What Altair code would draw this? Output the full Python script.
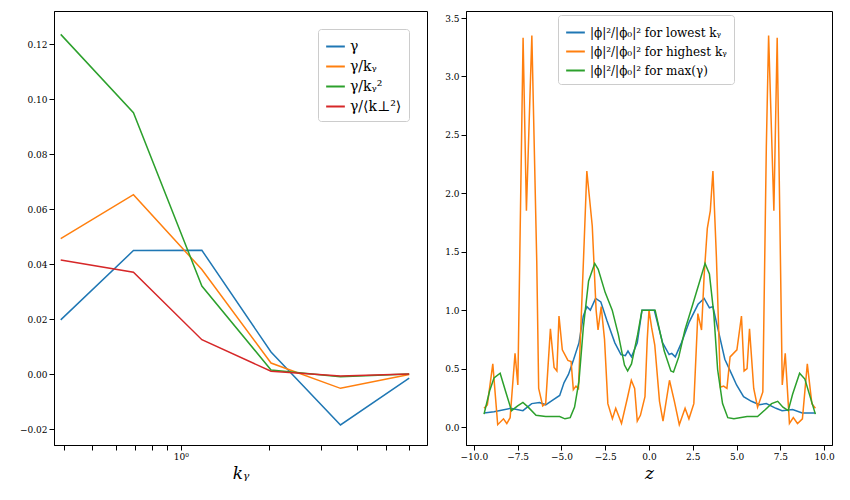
import altair as alt
import pandas as pd

FONT = "DejaVu Serif"
COLORS = ["#1f77b4", "#ff7f0e", "#2ca02c", "#d62728"]

# left panel: growth rate vs k_y
ky = [0.39, 0.69, 1.18, 2.03, 3.5, 6.0]
gamma = [0.0197, 0.0449, 0.0450, 0.0080, -0.0185, -0.0015]
gamma_ky = [0.0492, 0.0652, 0.0380, 0.0040, -0.0052, -0.0002]
gamma_ky2 = [0.1235, 0.0950, 0.0320, 0.0015, -0.0010, 0.0]
gamma_kperp = [0.0415, 0.0370, 0.0125, 0.0010, -0.0007, 0.0]
left_names = ["γ", "γ/kᵧ", "γ/kᵧ²", "γ/⟨k⊥²⟩"]

# right panel: mode structure along z
z_low = [-9.42, -8.85, -7.9, -7.2, -6.7, -6.25, -5.9, -5.5, -5.1, -4.85, -4.6, -4.3, -4.0,
         -3.75, -3.55, -3.35, -3.05, -2.75, -2.4, -1.95, -1.6, -1.35, -1.2, -1.0, -0.67, -0.4,
         0.0, 0.3, 0.78, 1.15, 1.3, 1.5, 1.85, 2.3, 2.8, 3.15, 3.45, 3.65, 3.92, 4.33, 4.76,
         5.0, 5.4, 5.85, 6.3, 6.7, 7.25, 7.6, 8.2, 8.75, 9.5]
v_low = [0.12, 0.13, 0.16, 0.14, 0.20, 0.21, 0.19, 0.23, 0.27, 0.38, 0.45, 0.58, 0.72,
         0.95, 1.03, 1.00, 1.10, 1.07, 0.91, 0.72, 0.62, 0.61, 0.65, 0.60, 0.72, 1.00,
         1.00, 1.00, 0.72, 0.62, 0.63, 0.60, 0.72, 0.90, 1.05, 1.10, 1.02, 1.03, 0.85, 0.58, 0.44,
         0.36, 0.26, 0.22, 0.19, 0.20, 0.16, 0.14, 0.15, 0.12, 0.12]

z_high = [-9.42, -9.23, -8.92, -8.64, -8.31, -8.12, -7.93, -7.65, -7.49, -7.19, -7.0, -6.69,
          -6.41, -6.3, -6.07, -5.9, -5.63, -5.42, -5.26, -5.14, -4.95, -4.63, -4.45, -4.32,
          -4.17, -4.03, -3.70, -3.55, -3.24, -3.02, -2.91, -2.73, -2.54, -2.35, -2.09, -1.90,
          -1.72, -1.57, -1.23, -1.01, -0.82, -0.67, -0.49, -0.23, -0.1, 0.0, 0.15, 0.33, 0.6,
          0.8, 1.17, 1.45, 1.73, 2.06, 2.28, 2.56, 2.79, 3.0, 3.15, 3.33, 3.5, 3.65, 3.85,
          4.08, 4.26, 4.45, 4.63, 5.02, 5.28, 5.43, 5.6, 5.74, 5.98, 6.2, 6.5, 6.7, 6.83,
          7.13, 7.32, 7.61, 7.78, 8.02, 8.24, 8.48, 8.76, 9.04, 9.3, 9.5]
v_high = [0.16, 0.19, 0.54, 0.02, 0.07, 0.03, 0.08, 0.63, 0.36, 3.33, 1.85, 3.35,
          1.42, 0.33, 0.18, 0.20, 0.84, 0.51, 0.48, 0.95, 0.66, 0.57, 0.56, 0.32,
          0.35, 0.33, 1.59, 2.19, 1.72, 1.00, 0.83, 1.03, 0.75, 0.20, 0.07, 0.16,
          0.09, 0.03, 0.25, 0.40, 0.33, 0.05, 0.10, 0.26, 0.75, 1.00, 0.85, 0.70, 0.22,
          0.05, 0.40, 0.22, 0.02, 0.16, 0.07, 0.20, 0.97, 0.83, 1.30, 1.70, 1.85, 2.19, 1.45,
          0.34, 0.35, 0.33, 0.60, 0.66, 0.95, 0.48, 0.50, 0.84, 0.33, 0.17, 0.30, 2.40, 3.35,
          1.85, 3.33, 0.36, 0.63, 0.03, 0.08, 0.03, 0.07, 0.54, 0.20, 0.16]

z_max = [-9.42, -9.1, -8.85, -8.5, -8.2, -7.85, -7.5, -7.2, -6.9, -6.45, -5.9, -5.1, -4.8,
         -4.5, -4.25, -4.0, -3.75, -3.45, -3.1, -2.9, -2.5, -2.1, -1.75, -1.4, -1.22, -1.0,
         -0.65, -0.4, 0.0, 0.35, 0.87, 1.25, 1.4, 1.7, 2.05, 2.5, 2.9, 3.2, 3.45, 3.7, 3.92,
         4.2, 4.5, 4.85, 5.6, 6.2, 6.65, 7.0, 7.35, 7.65, 7.95, 8.2, 8.6, 8.9, 9.2, 9.5]
v_max = [0.11, 0.31, 0.42, 0.46, 0.31, 0.14, 0.18, 0.21, 0.17, 0.10, 0.09, 0.09, 0.07,
         0.08, 0.17, 0.39, 0.85, 1.25, 1.40, 1.35, 1.15, 1.00, 0.79, 0.53, 0.48, 0.54,
         0.79, 1.00, 1.00, 1.00, 0.65, 0.48, 0.47, 0.60, 0.83, 1.05, 1.25, 1.40, 1.31, 0.97, 0.49,
         0.20, 0.08, 0.07, 0.09, 0.09, 0.15, 0.20, 0.22, 0.17, 0.14, 0.28, 0.46, 0.41, 0.26, 0.11]
right_names = ["|ϕ|²/|ϕ₀|² for lowest kᵧ", "|ϕ|²/|ϕ₀|² for highest kᵧ", "|ϕ|²/|ϕ₀|² for max(γ)"]

left_df = pd.concat([
    pd.DataFrame({"ky": ky, "val": vals, "series": name, "order": i})
    for i, (name, vals) in enumerate(zip(left_names, [gamma, gamma_ky, gamma_ky2, gamma_kperp]))
])
right_df = pd.concat([
    pd.DataFrame({"z": zs, "val": vs, "series": name, "order": i})
    for i, (name, zs, vs) in enumerate(zip(right_names, [z_low, z_high, z_max], [v_low, v_high, v_max]))
])

legend_style = dict(
    title=None, fillColor="white", strokeColor="#cccccc", cornerRadius=3, padding=7,
    labelFont=FONT, symbolType="stroke", symbolStrokeWidth=2,
    symbolSize=350, rowPadding=2,
)

minor = [0.4, 0.5, 0.6, 0.7, 0.8, 0.9, 1, 2, 3, 4, 5, 6]
left = (
    alt.Chart(left_df)
    .mark_line(strokeWidth=1.5)
    .encode(
        x=alt.X("ky:Q", title="kᵧ",
                scale=alt.Scale(type="log", domain=[0.37, 6.9], nice=False),
                axis=alt.Axis(values=minor, labelExpr="datum.value == 1 ? '10⁰' : ''",
                              grid=False, titleFontStyle="italic", titleFontSize=17,
                              titleFontWeight="normal")),
        y=alt.Y("val:Q", title=None, scale=alt.Scale(domain=[-0.0258, 0.132], nice=False, zero=False),
                axis=alt.Axis(values=[-0.02, 0, 0.02, 0.04, 0.06, 0.08, 0.10, 0.12],
                              format=".2f", grid=False)),
        color=alt.Color("series:N", sort=left_names,
                        scale=alt.Scale(domain=left_names, range=COLORS),
                        legend=alt.Legend(orient="top-right", labelFontSize=14, **legend_style)),
        order="order:Q",
    )
    .properties(width=373, height=434)
)

right = (
    alt.Chart(right_df)
    .mark_line(strokeWidth=1.5)
    .encode(
        x=alt.X("z:Q", title="z", scale=alt.Scale(domain=[-10.45, 10.45], nice=False),
                axis=alt.Axis(values=[-10, -7.5, -5, -2.5, 0, 2.5, 5, 7.5, 10], format=".1f",
                              grid=False, titleFontStyle="italic", titleFontSize=17,
                              titleFontWeight="normal")),
        y=alt.Y("val:Q", title=None, scale=alt.Scale(domain=[-0.154, 3.56], nice=False),
                axis=alt.Axis(values=[0, 0.5, 1, 1.5, 2, 2.5, 3, 3.5], format=".1f", grid=False)),
        color=alt.Color("series:N", sort=right_names,
                        scale=alt.Scale(domain=right_names, range=COLORS[:3]),
                        legend=alt.Legend(orient="none", legendX=92, legendY=4, labelFontSize=12,
                                          **legend_style)),
        detail="series:N",
    )
    .properties(width=366, height=434)
)

chart = (
    alt.hconcat(left, right, spacing=16)
    .resolve_scale(color="independent")
    .properties(padding={"left": 10, "top": 2, "right": 2, "bottom": 2})
    .configure_view(stroke="black", strokeWidth=1)
    .configure_axis(labelFont=FONT, titleFont=FONT, labelFontSize=9, labelColor="black",
                    domainColor="black", tickColor="black", titleColor="black")
)

chart.save("out.html", embed_options={"renderer": "svg", "actions": False})
